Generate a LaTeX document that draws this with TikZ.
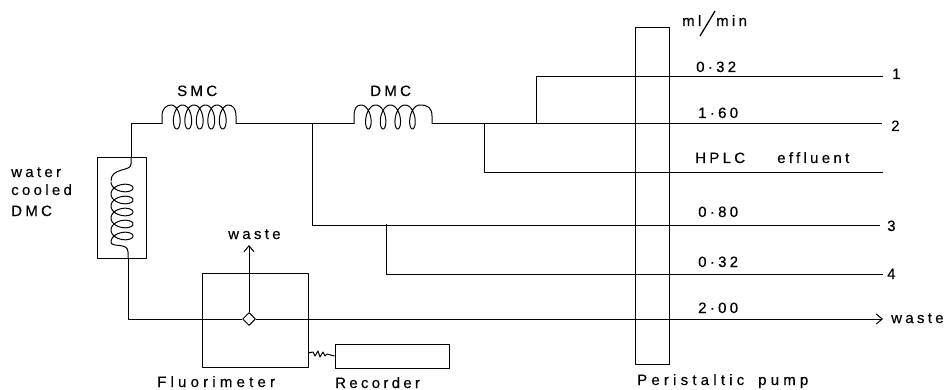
\documentclass[tikz,border=0pt]{standalone}
\usepackage{fontspec}
\setmainfont[LetterSpace=22,FakeBold=0.35]{Liberation Sans}
\newfontfamily\widefont[LetterSpace=28,FakeBold=0.35]{Liberation Sans}
\usetikzlibrary{arrows.meta,shapes.geometric}
\tikzset{
  ln/.style={line width=1pt,line join=round},
  boxn/.style={ln,draw,inner sep=0pt},
  lbl/.style={inner sep=0pt,anchor=base west,font=\fontsize{15}{17}\selectfont,text=black},
  tip/.style={-{Straight Barb[length=6pt,width=10pt,line width=1pt]}}
}
\begin{document}
\begin{tikzpicture}[x=1pt,y=-1pt]
\useasboundingbox (0,0) rectangle (947,390);
% boxes
\node[boxn,minimum width=49pt,minimum height=100pt] (wbox) at (121.5,208) {};
\node[boxn,minimum width=106pt,minimum height=94pt] (fluor) at (255,320) {};
\node[boxn,minimum width=114pt,minimum height=24pt] (rec) at (392,356) {};
\node[boxn,minimum width=34pt,minimum height=336pt] (pump) at (652,196) {};
% junctions and ends
\coordinate (wtop) at (131,158);
\coordinate (corner) at (131,124);
\coordinate (smcL) at (162,124);
\coordinate (smcR) at (236,124);
\coordinate (dmcL) at (354,124);
\coordinate (dmcR) at (432,124);
\coordinate (j3) at (312,124);
\coordinate (j4) at (386,224);
\coordinate (jH) at (484,124);
\coordinate (j1) at (536,124);
\coordinate (e1) at (883,77);
\coordinate (e2) at (882,124);
\coordinate (eH) at (883,173);
\coordinate (e3) at (880,225);
\coordinate (e4) at (883,274);
\coordinate (wbot) at (128,258);
\coordinate (ewaste) at (883,319);
\coordinate (eup) at (249,245);
\coordinate (zig) at (308,353);
% lines
\draw[ln] (wtop) -- (corner) -- (smcL);
\draw[ln] (smcR) -- (dmcL);
\draw[ln] (dmcR) -- (e2);
\draw[ln] (j3) |- (e3);
\draw[ln] (j4) |- (e4);
\draw[ln] (jH) |- (eH);
\draw[ln] (j1) |- (e1);
% flow line and flow cell
\node[boxn,fill=white,diamond,minimum size=13pt] (cell) at (249,319) {};
\draw[ln] (wbot) |- (cell.west);
\draw[ln,tip] (cell.east) -- (ewaste);
\draw[ln,tip] (cell.north) -- (eup);
% SMC coil
\draw[ln] (smcL) -- (162,116) .. controls (162,108) and (167,105) .. (171,105)
  plot[domain=0:1800,samples=240,smooth] ({171+\x/360*11.5+6*sin(\x)},{117-12*cos(\x)})
  .. controls (232,105) and (236,108) .. (236,116) -- (smcR);
% DMC coil
\draw[ln] (dmcL) -- (354,116) .. controls (354,108) and (357,105) .. (361,105)
  plot[domain=0:1440,samples=200,smooth] ({361+\x/360*14.7+6*sin(\x)},{117-12*cos(\x)})
  .. controls (428,105) and (432,108) .. (432,116) -- (dmcR);
% water cooled coil
\draw[ln] (wtop) -- (131,164) .. controls (131,172) and (111,167) .. (111,181)
  plot[domain=180:1980,samples=240,smooth] ({122+11*cos(\x)},{182+(\x-180)/360*12-6.5*sin(\x)})
  .. controls (111,248) and (128,242) .. (128,252) -- (wbot);
% recorder lead
\draw[ln] (zig) -- (313,352) -- (315,356) -- (318,351) -- (320,357) -- (323,352) -- (325,356) -- (327,354) -- (rec.west);
% labels
\node[lbl] (tSMC) at (177,96) {SMC};
\node[lbl] (tDMC) at (370,96) {DMC};
\node[lbl] (tw1) at (11,177) {water};
\node[lbl] (tw2) at (11,195) {cooled};
\node[lbl] (tw3) at (11,216) {DMC};
\node[lbl] (tup) at (228,239) {waste};
\node[lbl] (tF) at (157,387) {\widefont Fluorimeter};
\node[lbl] (tR) at (335,388) {Recorder};
\node[lbl] (tP) at (637,385) {\widefont Peristaltic};
\node[lbl] (tP2) at (758,385) {\widefont pump};
\node[lbl] (tml) at (682,26) {ml};
\node[lbl] (tmin) at (716,26) {min};
\draw[line width=1.3pt] (700,36) -- (715,11);
\node[lbl] (a1) at (696,72) {0·32};
\node[lbl] (a2) at (698,118) {1·60};
\node[lbl] (a3) at (695,163) {HPLC};
\node[lbl] (a3b) at (777,163) {effluent};
\node[lbl] (a4) at (698,217) {0·80};
\node[lbl] (a5) at (698,267) {0·32};
\node[lbl] (a6) at (698,313) {2·00};
\node[lbl] (n1) at (892,79) {1};
\node[lbl] (n2) at (891,131) {2};
\node[lbl] (n3) at (887,231) {3};
\node[lbl] (n4) at (887,279) {4};
\node[lbl] (tw) at (891,323) {waste};
\end{tikzpicture}
\end{document}
